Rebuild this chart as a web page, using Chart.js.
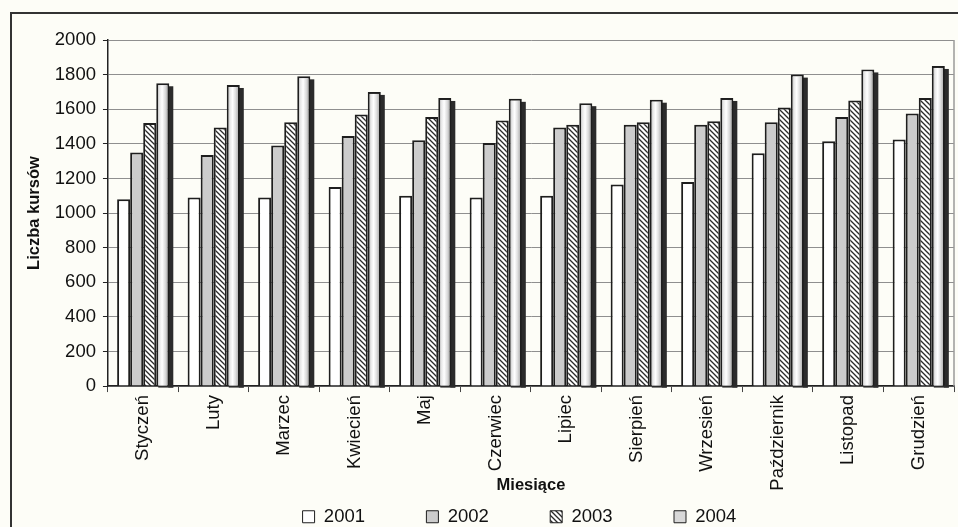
<!DOCTYPE html>
<html lang="pl">
<head>
  <meta charset="UTF-8" />
  <title>Liczba kursów</title>
  <script src="https://cdn.jsdelivr.net/npm/chart.js"></script>
  <style>
    html, body { margin: 0; height: 100%; overflow: hidden; background: #fdfdf7; font-family: "Liberation Sans", Arial, sans-serif; }
    #frame { position: absolute; left: 10px; top: 12px; width: 980px; height: 560px; border: 2px solid #333; }
    #wrap { position: absolute; left: 0; top: 0; width: 1048px; height: 536px; }
  </style>
</head>
<body>
<div id="frame"></div>
<div id="wrap"><canvas id="chart" width="1048" height="536"></canvas></div>
<script>
const months = ['Styczeń', 'Luty', 'Marzec', 'Kwiecień', 'Maj', 'Czerwiec', 'Lipiec', 'Sierpień', 'Wrzesień', 'Październik', 'Listopad', 'Grudzień'];
const years = ['2001', '2002', '2003', '2004'];
const y2001 = [1080, 1090, 1090, 1150, 1100, 1090, 1100, 1165, 1180, 1345, 1415, 1425];
const y2002 = [1350, 1335, 1390, 1445, 1420, 1405, 1495, 1510, 1510, 1525, 1555, 1575];
const y2003 = [1520, 1495, 1525, 1570, 1555, 1535, 1510, 1525, 1530, 1610, 1650, 1665];
const y2004 = [1750, 1740, 1790, 1700, 1665, 1660, 1635, 1655, 1665, 1800, 1830, 1850];
const yTicks = [0, 200, 400, 600, 800, 1000, 1200, 1400, 1600, 1800, 2000];

const FONT = 'Liberation Sans';

// diagonal hatch for 2003
function hatch() {
  const s = 5;
  const c = document.createElement('canvas');
  c.width = s; c.height = s;
  const g = c.getContext('2d');
  g.fillStyle = '#ffffff';
  g.fillRect(0, 0, s, s);
  g.strokeStyle = '#2a2a2a';
  g.lineWidth = 1.3;
  g.beginPath();
  g.moveTo(-1, -1); g.lineTo(s + 1, s + 1);
  g.moveTo(-1, s - 1); g.lineTo(1, s + 1);
  g.moveTo(s - 1, -1); g.lineTo(s + 1, 1);
  g.stroke();
  return g.createPattern(c, 'repeat');
}

// 2004 bars: dark side strip behind, cylinder-like shading on the face
const columnLook = {
  id: 'columnLook',
  beforeDatasetDraw(chart, args) {
    if (args.index !== 3) return;
    const ctx = chart.ctx;
    ctx.save();
    ctx.fillStyle = '#2b2b2b';
    args.meta.data.forEach(el => {
      const { x, y, base, width } = el.getProps(['x', 'y', 'base', 'width'], true);
      const right = x + width / 2;
      ctx.fillRect(right - 1, y + 3, 5, base - y - 1);
      ctx.fillRect(x - width / 2 + 2, base, width + 2, 2);
    });
    ctx.restore();
  },
  afterDatasetDraw(chart, args) {
    if (args.index !== 3) return;
    const ctx = chart.ctx;
    ctx.save();
    args.meta.data.forEach(el => {
      const { x, y, base, width } = el.getProps(['x', 'y', 'base', 'width'], true);
      const left = x - width / 2;
      const gr = ctx.createLinearGradient(left, 0, left + width, 0);
      gr.addColorStop(0, '#a0a0a0');
      gr.addColorStop(0.25, '#e8e8e8');
      gr.addColorStop(0.45, '#ffffff');
      gr.addColorStop(0.7, '#dadada');
      gr.addColorStop(1, '#8c8c8c');
      ctx.fillStyle = gr;
      ctx.fillRect(left + 2, y + 2, width - 4, base - y - 2);
    });
    ctx.restore();
  }
};

const plotFrame = {
  id: 'plotFrame',
  beforeDatasetsDraw(chart) {
    const { ctx, chartArea: a } = chart;
    ctx.save();
    ctx.strokeStyle = '#9a9a9a';
    ctx.lineWidth = 1.5;
    ctx.beginPath();
    ctx.moveTo(a.right, a.top);
    ctx.lineTo(a.right, a.bottom);
    ctx.stroke();
    ctx.restore();
  }
};

const legendShift = {
  id: 'legendShift',
  afterLayout(chart) {
    chart.legend.left += 33;
    chart.legend.right += 33;
  }
};

const series = [y2001, y2002, y2003, y2004];
const fills = ['#ffffff', '#cccccc', hatch(), '#d8d8d8'];

new Chart(document.getElementById('chart'), {
  type: 'bar',
  data: {
    labels: months,
    datasets: years.map((yr, i) => ({
      label: yr,
      data: series[i],
      backgroundColor: fills[i],
      borderColor: '#1e1e1e',
      borderWidth: 2,
      categoryPercentage: 0.74,
      barPercentage: 1.0
    }))
  },
  options: {
    responsive: false,
    animation: false,
    layout: { padding: { left: 19, right: 94, top: 40, bottom: 0 } },
    plugins: {
      tooltip: { enabled: false },
      legend: {
        position: 'bottom',
        labels: {
          color: '#111',
          font: { family: FONT, size: 18.5 },
          boxWidth: 12,
          boxHeight: 12,
          padding: 10,
          generateLabels(chart) {
            const items = Chart.defaults.plugins.legend.labels.generateLabels(chart);
            items.forEach((it, i) => {
              it.lineWidth = 1;
              if (i < items.length - 1) it.text = it.text + '\u00a0'.repeat(10);
            });
            return items;
          }
        }
      }
    },
    scales: {
      x: {
        grid: { offset: true, drawOnChartArea: false, drawTicks: true, tickLength: 6, color: '#444' },
        border: { color: '#222', width: 1.5 },
        ticks: {
          color: '#111',
          font: { family: FONT, size: 18.5 },
          minRotation: 90, maxRotation: 90, autoSkip: false, padding: 3
        },
        title: {
          display: true, text: 'Miesiące', color: '#111',
          font: { family: FONT, size: 16.5, weight: 'bold' },
          padding: { top: -18.2, bottom: 2.2 }
        }
      },
      y: {
        min: 0, max: 2000,
        afterBuildTicks(axis) { axis.ticks = yTicks.map(v => ({ value: v })); },
        grid: { color: '#8f8f8f', lineWidth: 1, tickLength: 5, tickColor: '#222' },
        border: { color: '#222', width: 1.5 },
        ticks: {
          color: '#111', font: { family: FONT, size: 18.5 }, padding: 7,
          callback: v => String(v)
        },
        title: {
          display: true, text: 'Liczba kursów', color: '#111',
          font: { family: FONT, size: 16.5, weight: 'bold' },
          padding: { top: 6, bottom: 3 }
        }
      }
    }
  },
  plugins: [columnLook, plotFrame, legendShift]
});
</script>
</body>
</html>
